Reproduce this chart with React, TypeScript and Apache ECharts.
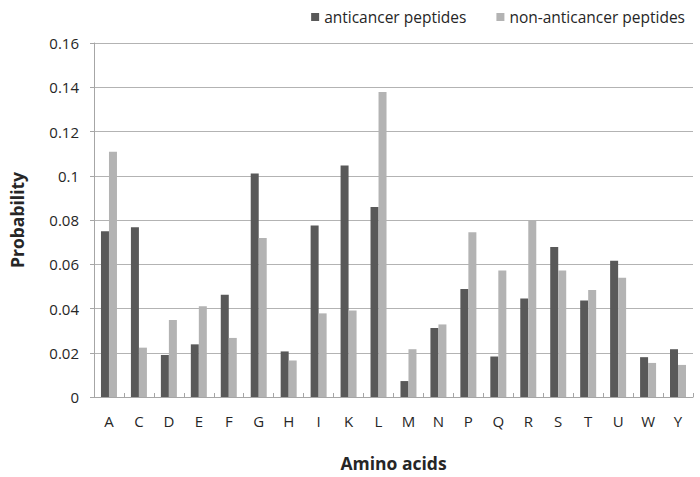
import React, { useEffect, useRef } from "react";
import * as echarts from "echarts";

const categories = ["A","C","D","E","F","G","H","I","K","L","M","N","P","Q","R","S","T","U","W","Y"];
const anticancer = [0.0749,0.0767,0.019,0.0238,0.0462,0.101,0.0206,0.0775,0.1046,0.0859,0.0072,0.0312,0.0488,0.0183,0.0445,0.0678,0.0436,0.0616,0.018,0.0216];
const nonAnticancer = [0.1109,0.0223,0.0348,0.041,0.0267,0.0719,0.0165,0.0378,0.0391,0.1378,0.0216,0.0328,0.0745,0.0572,0.0797,0.0572,0.0484,0.0539,0.0154,0.0145];
const yTicks = ["0","0.02","0.04","0.06","0.08","0.1","0.12","0.14","0.16"];

const FONT = "'Open Sans', 'Noto Sans', sans-serif";

export default function App() {
  const ref = useRef<HTMLDivElement>(null);
  useEffect(() => {
    if (!ref.current) return;
    const chart = echarts.init(ref.current, null, { renderer: "svg" });
    chart.setOption({
      animation: false,
      backgroundColor: "#ffffff",
      textStyle: { fontFamily: FONT },
      legend: {
        top: 4,
        right: 10,
        itemWidth: 8,
        itemHeight: 8,
        itemGap: 30,
        icon: "rect",
        textStyle: { fontFamily: FONT, fontSize: 15.5, color: "#262626" },
        data: ["anticancer peptides", "non-anticancer peptides"],
      },
      grid: { left: 84, right: 7, top: 43, bottom: 66, containLabel: false },
      xAxis: {
        type: "category",
        data: categories,
        name: "Amino acids",
        nameLocation: "middle",
        nameGap: 57,
        nameTextStyle: { fontFamily: FONT, fontSize: 17.5, fontWeight: "bold", color: "#262626" },
        axisLine: { lineStyle: { color: "#a6a6a6", width: 1 } },
        axisTick: { show: true, inside: true, length: 4, lineStyle: { color: "#a6a6a6" } },
        axisLabel: { fontFamily: FONT, fontSize: 15, color: "#262626", margin: 16 },
      },
      yAxis: {
        type: "value",
        min: 0,
        max: 0.16,
        interval: 0.02,
        name: "Probability",
        nameLocation: "middle",
        nameGap: 68,
        nameRotate: 90,
        nameTextStyle: { fontFamily: FONT, fontSize: 17.5, fontWeight: "bold", color: "#262626" },
        axisLine: { show: true, lineStyle: { color: "#a6a6a6", width: 1 } },
        axisTick: { show: true, length: 4, lineStyle: { color: "#a6a6a6" } },
        axisLabel: {
          fontFamily: FONT,
          fontSize: 15,
          color: "#262626",
          margin: 15,
          formatter: (v: number) => {
            const i = Math.round(v / 0.02);
            return yTicks[i] ?? String(v);
          },
        },
        splitLine: { show: true, lineStyle: { color: "#b3b3b3", width: 1 } },
      },
      series: [
        {
          name: "anticancer peptides",
          type: "bar",
          data: anticancer,
          barWidth: 8,
          barGap: "0%",
          itemStyle: { color: "#595959" },
        },
        {
          name: "non-anticancer peptides",
          type: "bar",
          data: nonAnticancer,
          barWidth: 8,
          barGap: "0%",
          itemStyle: { color: "#b3b3b3" },
        },
      ],
    });
    return () => chart.dispose();
  }, []);
  return <div ref={ref} style={{ width: 700, height: 477, position: "absolute", left: 0, top: 0 }} />;
}
